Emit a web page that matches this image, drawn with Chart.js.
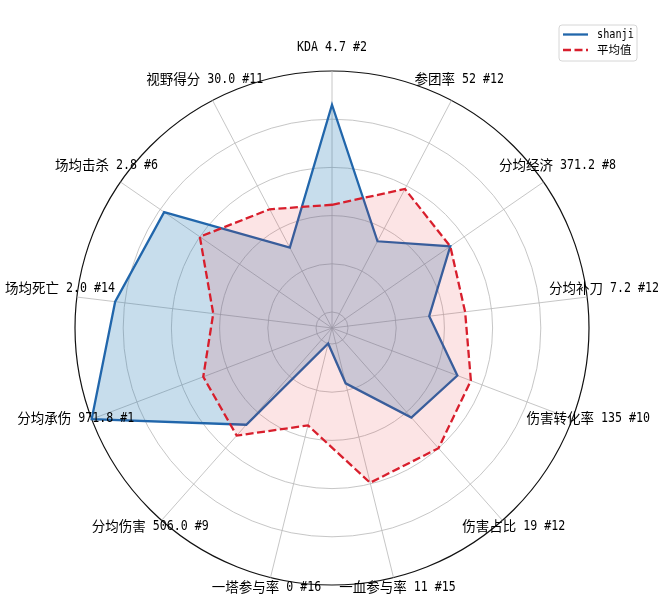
<!DOCTYPE html>
<html>
<head>
<meta charset="utf-8">
<script src="https://cdn.jsdelivr.net/npm/chart.js@4.4.0/dist/chart.umd.min.js"></script>
<style>
  html, body { margin: 0; padding: 0; background: #fff; }
  #chart { display: block; }
</style>
</head>
<body>
<canvas id="chart" width="660" height="600"></canvas>
<script>
// axis labels (clockwise from the top)
const CATEGORIES = [
  "KDA 4.7 #2", "参团率 52 #12", "分均经济 371.2 #8", "分均补刀 7.2 #12",
  "伤害转化率 135 #10", "伤害占比 19 #12", "一血参与率 11 #15", "一塔参与率 0 #16",
  "分均伤害 506.0 #9", "分均承伤 971.8 #1", "场均死亡 2.0 #14", "场均击杀 2.8 #6",
  "视野得分 30.0 #11"
];
// normalized scores
const SHANJI  = [0.86, 0.34, 0.53, 0.34, 0.49, 0.43, 0.17, 0.00, 0.47, 1.00, 0.84, 0.78, 0.31];
const AVERAGE = [0.445, 0.585, 0.53, 0.49, 0.55, 0.60, 0.595, 0.35, 0.53, 0.505, 0.43, 0.60, 0.49];
const RING_TICKS = [0, 0.2, 0.4, 0.6, 0.8, 1.0];

const BLUE = "#2166ab";
const RED = "#d81e2c";
const CJK_FONT = '"Noto Sans CJK SC", sans-serif';
const MONO_FONT = '"DejaVu Sans Mono", monospace';

// split text in CJK / latin runs, latin drawn narrow like SimHei
function runs(text) {
  return text.match(/[\u3000-\u9fff]+|[^\u3000-\u9fff]+/g) || [];
}

function drawMixed(ctx, text, x, y, cjkSize, monoSize, sx, align) {
  const parts = runs(text).map(t => {
    const cjk = /[\u3000-\u9fff]/.test(t);
    ctx.font = cjk ? `${cjkSize}px ${CJK_FONT}` : `${monoSize}px ${MONO_FONT}`;
    const k = cjk ? 1 : sx;
    return { t, cjk, k, w: ctx.measureText(t).width * k };
  });
  const total = parts.reduce((a, p) => a + p.w, 0);
  let cx = align === "left" ? x : x - total / 2;
  ctx.textBaseline = "middle";
  ctx.textAlign = "left";
  parts.forEach(p => {
    ctx.font = p.cjk ? `${cjkSize}px ${CJK_FONT}` : `${monoSize}px ${MONO_FONT}`;
    ctx.save();
    ctx.translate(cx, p.cjk ? y : y + 0.5);
    ctx.scale(p.k, 1);
    ctx.fillText(p.t, 0, 0);
    ctx.restore();
    cx += p.w;
  });
}

const axisLabels = {
  id: "axisLabels",
  afterDraw(chart) {
    const scale = chart.scales.r;
    const ctx = chart.ctx;
    ctx.save();
    ctx.fillStyle = "#000";
    chart.data.labels.forEach((lab, i) => {
      const p = scale.getPointPosition(i, scale.drawingArea + 17);
      drawMixed(ctx, lab, p.x, p.y - 7, 13.5, 14, 0.83, "center");
    });
    ctx.restore();
  }
};

const boxLegend = {
  id: "boxLegend",
  afterDraw(chart) {
    const ctx = chart.ctx;
    const x = 559, y = 25, w = 78, h = 36;
    ctx.save();
    ctx.beginPath();
    ctx.roundRect(x, y, w, h, 3);
    ctx.fillStyle = "rgba(255,255,255,0.85)";
    ctx.fill();
    ctx.strokeStyle = "#d6d6d6";
    ctx.lineWidth = 1;
    ctx.stroke();
    chart.data.datasets.forEach((ds, i) => {
      const ly = y + 9.5 + i * 15.5;
      ctx.beginPath();
      ctx.setLineDash(ds.borderDash || []);
      ctx.strokeStyle = ds.borderColor;
      ctx.lineWidth = ds.borderWidth;
      ctx.moveTo(x + 4, ly);
      ctx.lineTo(x + 29, ly);
      ctx.stroke();
      ctx.setLineDash([]);
      ctx.fillStyle = "#000";
      drawMixed(ctx, ds.label, x + 38, ly, 11.5, 12, 0.85, "left");
    });
    ctx.restore();
  }
};

new Chart(document.getElementById("chart"), {
  type: "radar",
  data: {
    labels: CATEGORIES,
    datasets: [
      {
        label: "shanji",
        data: SHANJI,
        borderColor: BLUE,
        backgroundColor: "rgba(31,119,180,0.25)",
        borderWidth: 2.3,
        pointRadius: 0,
        fill: "start",
        order: 1
      },
      {
        label: "平均值",
        data: AVERAGE,
        borderColor: RED,
        borderDash: [8, 3.5],
        backgroundColor: "rgba(230,30,40,0.12)",
        borderWidth: 2.3,
        pointRadius: 0,
        fill: "start",
        order: 0
      }
    ]
  },
  options: {
    responsive: false,
    animation: false,
    layout: { padding: { left: 75, right: 71, top: 71, bottom: 15 } },
    elements: { line: { tension: 0 } },
    plugins: { legend: { display: false }, tooltip: { enabled: false } },
    scales: {
      r: {
        min: -0.0664,
        max: 1,
        afterBuildTicks: s => { s.ticks = RING_TICKS.map(v => ({ value: v })); },
        ticks: { display: false },
        pointLabels: { display: false },
        angleLines: { color: "#b8b8b8", lineWidth: 0.8 },
        grid: {
          circular: true,
          color: c => (c.tick && c.tick.value === 1 ? "#111" : "#b8b8b8"),
          lineWidth: c => (c.tick && c.tick.value === 1 ? 1.2 : 0.8)
        }
      }
    }
  },
  plugins: [axisLabels, boxLegend]
});
</script>
</body>
</html>
